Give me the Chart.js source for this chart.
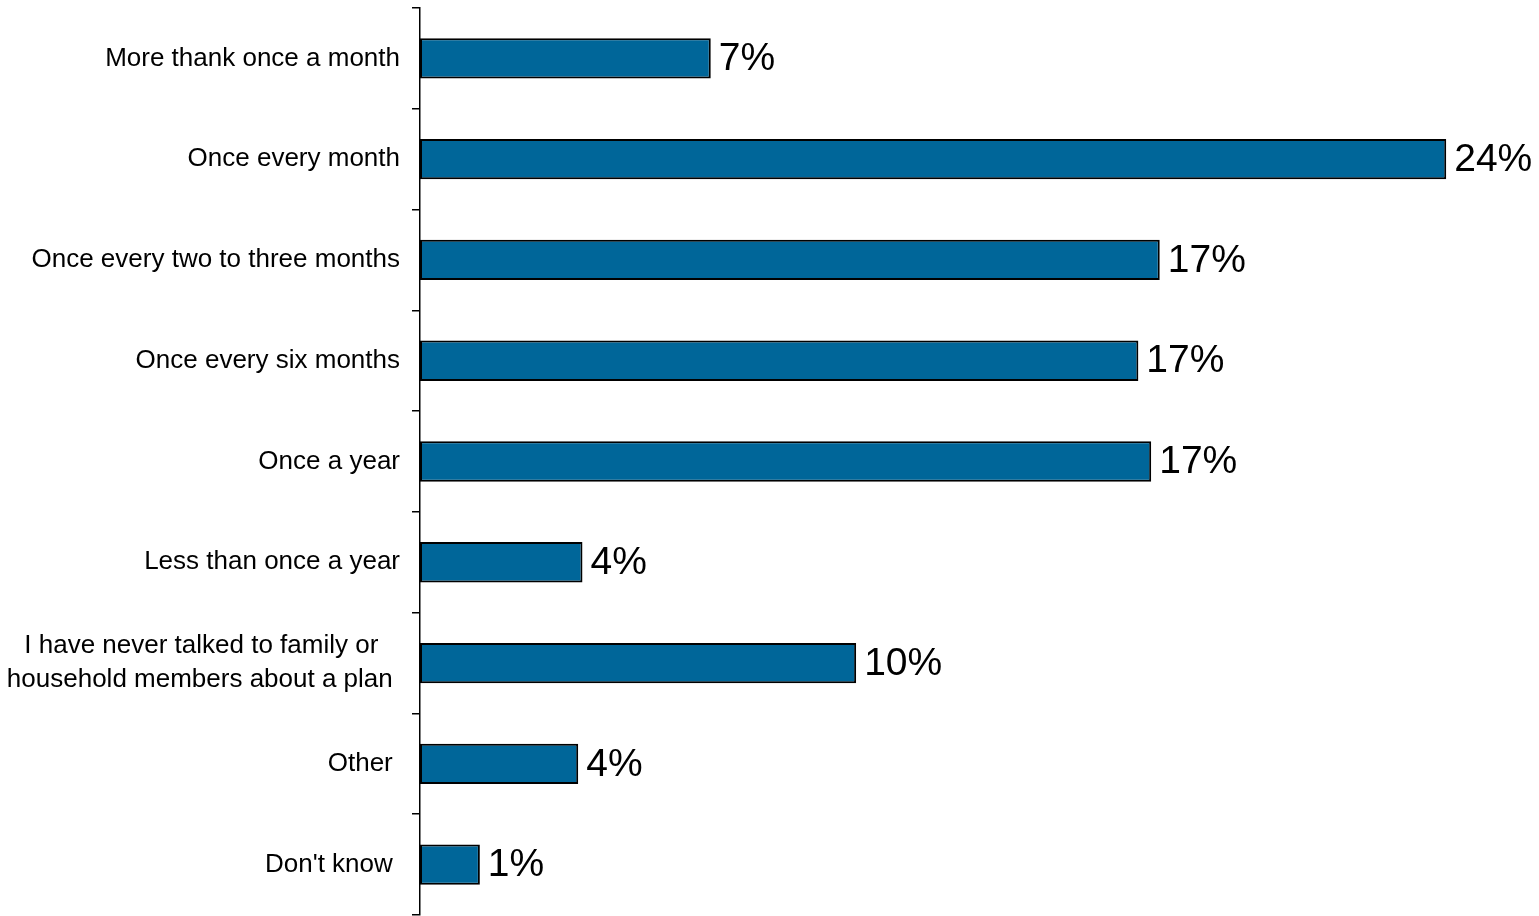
<!DOCTYPE html>
<html>
<head>
<meta charset="utf-8">
<script src="https://cdn.jsdelivr.net/npm/chart.js@4"></script>
<style>
  html, body { margin: 0; padding: 0; background: #ffffff; }
  #wrap { width: 1539px; height: 916px; position: relative; }
</style>
</head>
<body>
<div id="wrap"><canvas id="c"></canvas></div>
<script>
const categories = [
  "More thank once a month",
  "Once every month",
  "Once every two to three months",
  "Once every six months",
  "Once a year",
  "Less than once a year",
  ["I have never talked to family or   ", "household members about a plan "],
  "Other ",
  "Don't know "
];
const values = [6.8, 24.0, 17.3, 16.8, 17.1, 3.8, 10.2, 3.7, 1.4];
const valueLabels = ["7%", "24%", "17%", "17%", "17%", "4%", "10%", "4%", "1%"];

const FONT = "'Liberation Sans', Arial, Helvetica, sans-serif";

const valueLabelPlugin = {
  id: 'valueLabels',
  afterDatasetsDraw(chart) {
    const ctx = chart.ctx;
    const meta = chart.getDatasetMeta(0);
    ctx.save();
    ctx.font = "39px " + FONT;
    ctx.fillStyle = "#000000";
    ctx.textAlign = "left";
    ctx.textBaseline = "middle";
    meta.data.forEach((bar, i) => {
      ctx.fillText(valueLabels[i], bar.x + 8, bar.y + 1);
    });
    ctx.restore();
  }
};

new Chart(document.getElementById('c'), {
  type: 'bar',
  data: {
    labels: categories,
    datasets: [{
      data: values,
      backgroundColor: '#006699',
      borderColor: '#000000',
      borderWidth: 2,
      borderSkipped: false,
      barPercentage: 0.4,
      categoryPercentage: 1.0
    }]
  },
  options: {
    indexAxis: 'y',
    responsive: true,
    maintainAspectRatio: false,
    animation: false,
    layout: { padding: { top: 8, bottom: 1, left: 0, right: 50 } },
    plugins: {
      legend: { display: false },
      tooltip: { enabled: false }
    },
    scales: {
      x: {
        display: false,
        min: 0,
        max: 25
      },
      y: {
        afterFit(scale) {
          scale.width = 420;
          scale.paddingTop = 0;
          scale.paddingBottom = 0;
        },
        ticks: {
          color: '#000000',
          padding: 12,
          font: { family: FONT, size: 26, lineHeight: 1.3 }
        },
        grid: {
          offset: true,
          drawOnChartArea: false,
          drawTicks: true,
          tickLength: 8,
          color: '#000000',
          lineWidth: 1.5
        },
        border: { display: true, color: '#000000', width: 1.5 }
      }
    }
  },
  plugins: [valueLabelPlugin]
});
</script>
</body>
</html>
